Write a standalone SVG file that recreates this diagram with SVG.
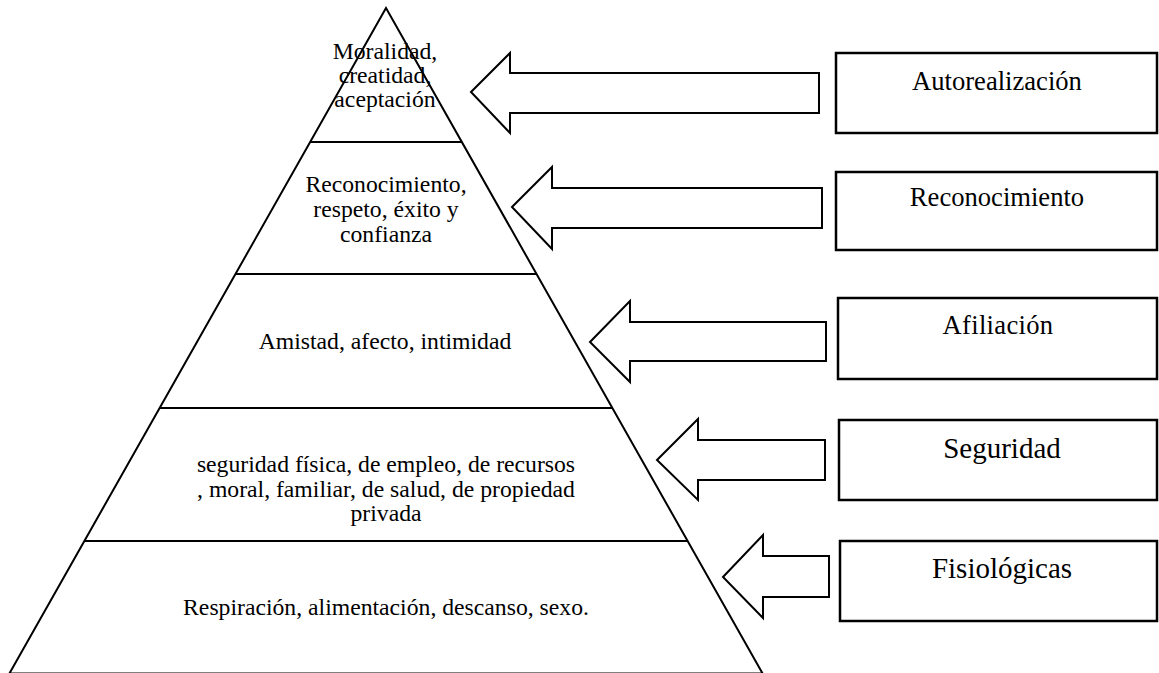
<svg xmlns="http://www.w3.org/2000/svg" width="1159" height="673" viewBox="0 0 1159 673">
<style>
.ln{fill:none;stroke:#000;stroke-width:2}
.arr{fill:#fff;stroke:#000;stroke-width:2;stroke-linejoin:miter}
.box{fill:#fff;stroke:#000;stroke-width:2.5}
.t{font-family:"Liberation Serif","Times New Roman",serif;fill:#000;text-anchor:middle}
.p{font-size:23.7px}
.b{font-size:26.6px}
.bl{font-size:29px}
</style>
<rect width="1159" height="673" fill="#fff"/>
<g id="pyramid">
<polygon class="ln" points="386,8 9.4,673.5 762.6,673.5"/>
<line class="ln" x1="310" y1="142" x2="462" y2="142"/>
<line class="ln" x1="235.4" y1="274" x2="536.6" y2="274"/>
<line class="ln" x1="159.5" y1="408" x2="612.5" y2="408"/>
<line class="ln" x1="84.2" y1="541" x2="687.8" y2="541"/>
</g>
<g id="level1">
<text class="t p" x="385" y="59">Moralidad,</text>
<text class="t p" x="385" y="83">creatidad,</text>
<text class="t p" x="385" y="107">aceptación</text>
</g>
<g id="level2">
<text class="t p" x="386" y="192">Reconocimiento,</text>
<text class="t p" x="386" y="217">respeto, éxito y</text>
<text class="t p" x="386" y="242">confianza</text>
</g>
<g id="level3">
<text class="t p" x="385" y="349">Amistad, afecto, intimidad</text>
</g>
<g id="level4">
<text class="t p" x="386" y="472">seguridad física, de empleo, de recursos</text>
<text class="t p" x="386" y="497">, moral, familiar, de salud, de propiedad</text>
<text class="t p" x="386" y="521">privada</text>
</g>
<g id="level5">
<text class="t p" x="386" y="615">Respiración, alimentación, descanso, sexo.</text>
</g>
<g id="connectors">
<polygon class="arr" points="471,92 510,53 510,73 819,73 819,113 510,113 510,133"/>
<polygon class="arr" points="512,207 552,167 552,188 822,188 822,228 552,228 552,249"/>
<polygon class="arr" points="590,342 630,301 630,322 826,322 826,361 630,361 630,382"/>
<polygon class="arr" points="657,460 698,419 698,440 825,440 825,480 698,480 698,500"/>
<polygon class="arr" points="723,577 763,535 763,556 829,556 829,597 763,597 763,618"/>
</g>
<g id="box-autorealizacion">
<rect class="box" x="836" y="53" width="321" height="80"/>
<text class="t b" x="997" y="90">Autorealización</text>
</g>
<g id="box-reconocimiento">
<rect class="box" x="836" y="172" width="321" height="78"/>
<text class="t b" x="997" y="206">Reconocimiento</text>
</g>
<g id="box-afiliacion">
<rect class="box" x="838" y="298" width="319" height="81"/>
<text class="t b" x="998" y="334" letter-spacing="0.3">Afiliación</text>
</g>
<g id="box-seguridad">
<rect class="box" x="839" y="420" width="318" height="80"/>
<text class="t bl" x="1002" y="458">Seguridad</text>
</g>
<g id="box-fisiologicas">
<rect class="box" x="840" y="541" width="317" height="80"/>
<text class="t bl" x="1002" y="578">Fisiológicas</text>
</g>
</svg>
